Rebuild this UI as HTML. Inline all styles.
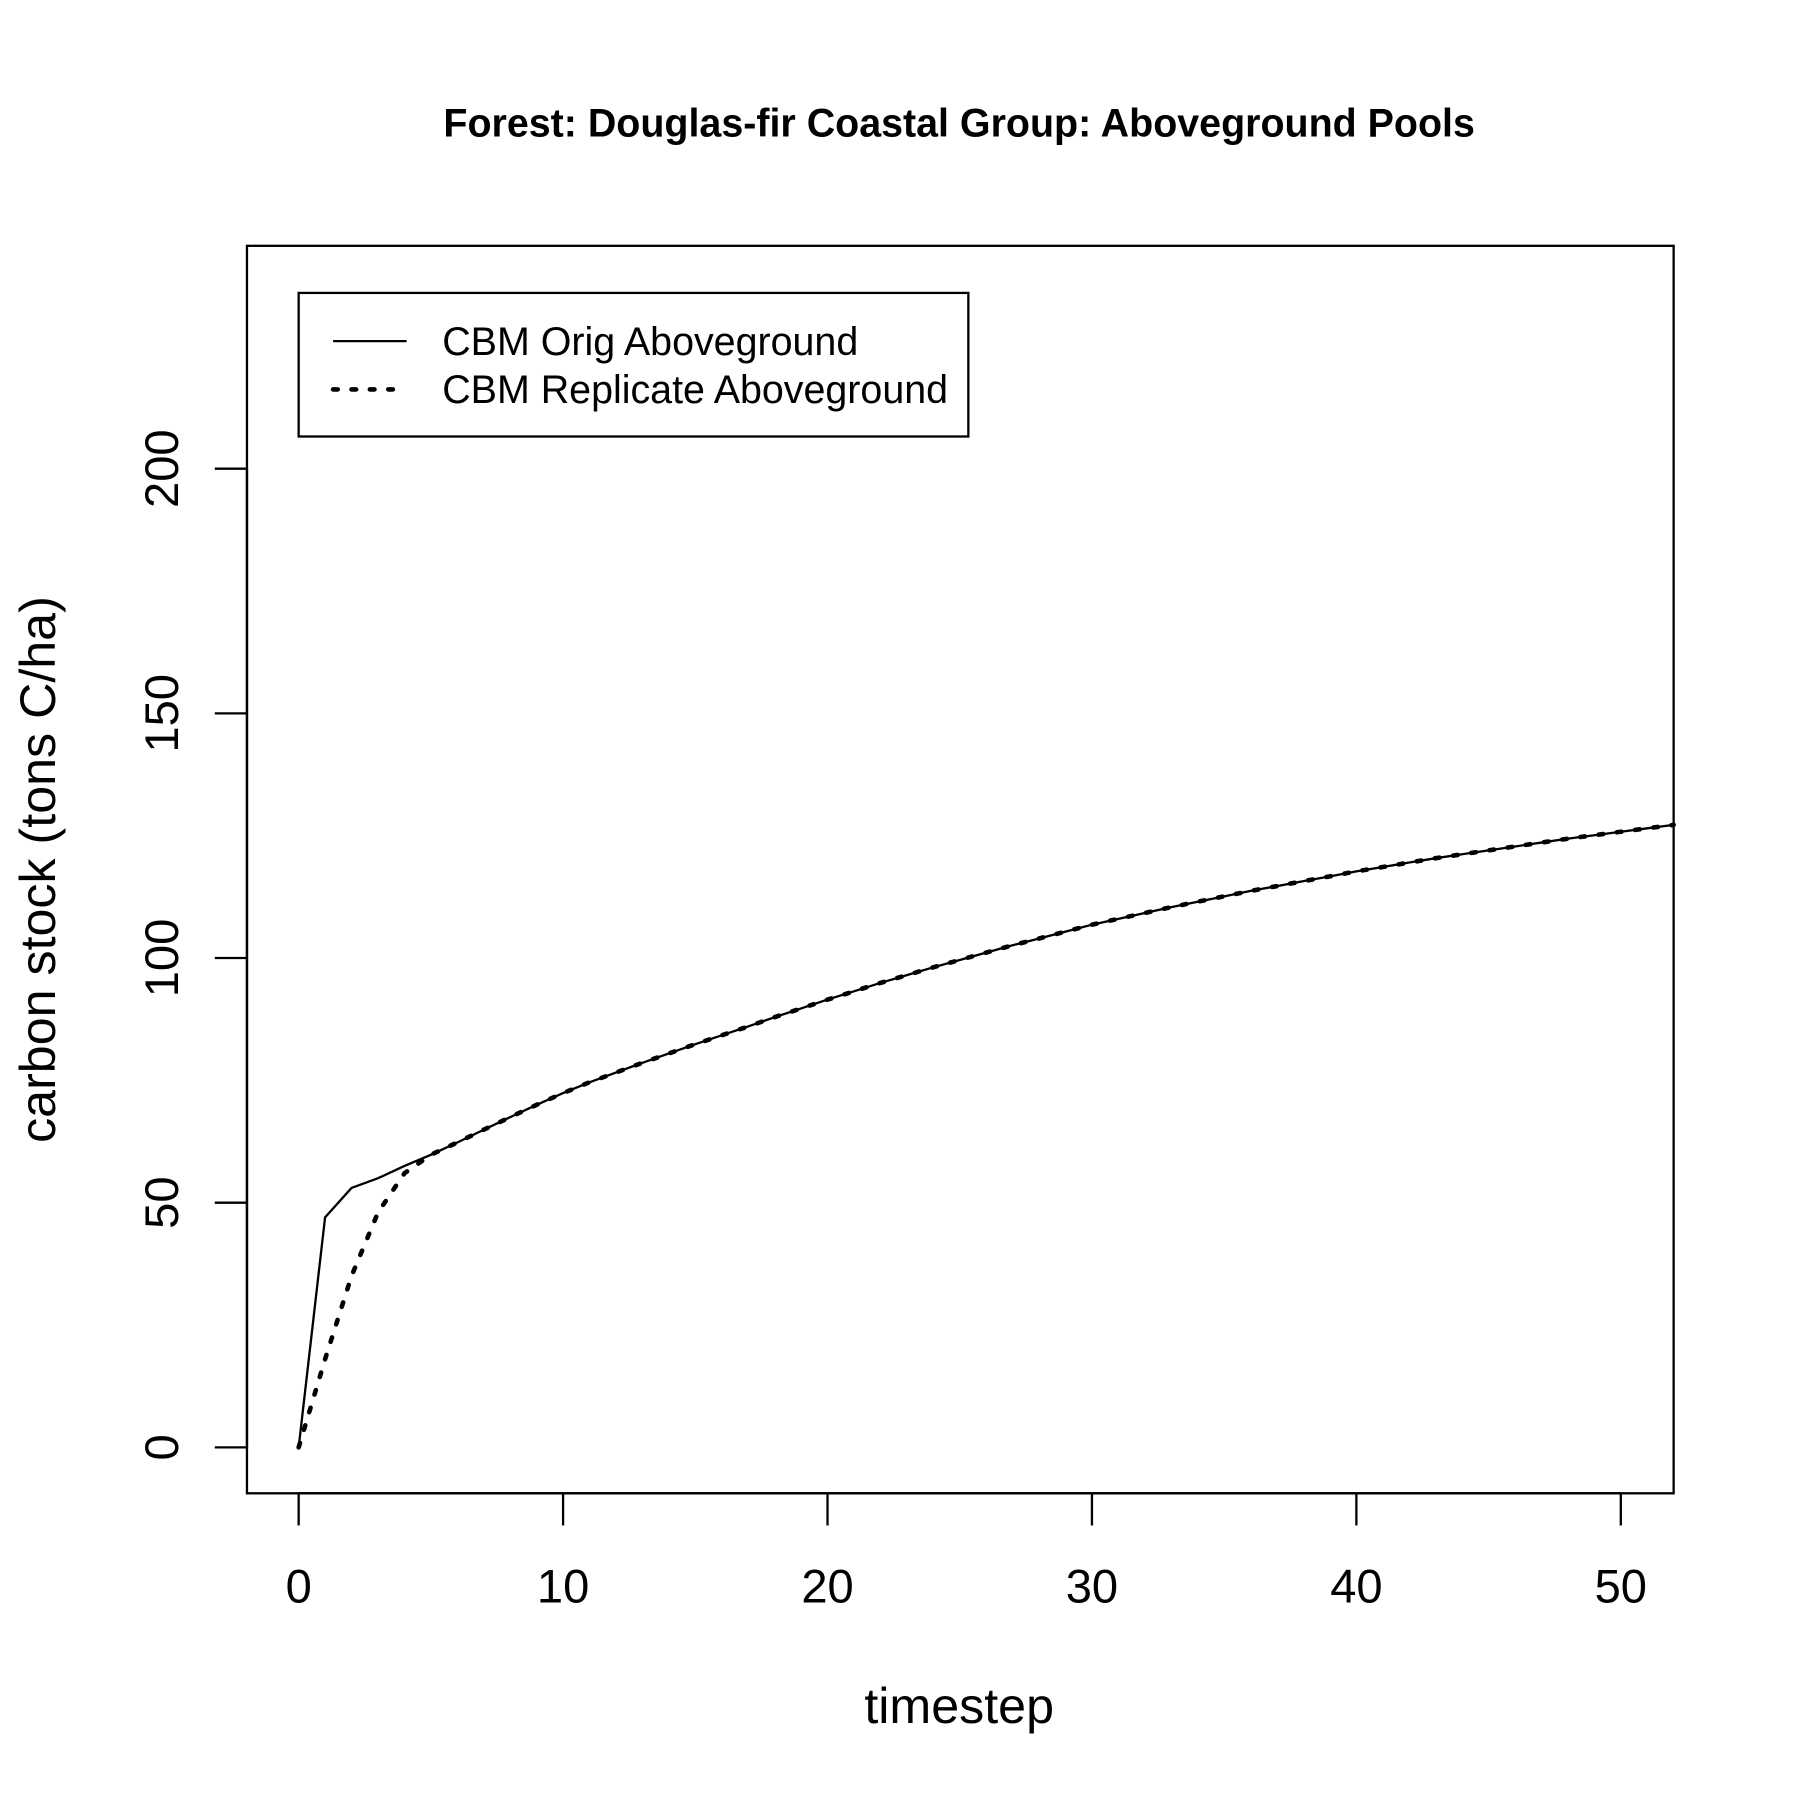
<!DOCTYPE html>
<html><head><meta charset="utf-8"><style>
html,body{margin:0;padding:0;background:#fff;}
svg{display:block;font-family:"Liberation Sans",Arial,sans-serif;}
</style></head><body>
<svg id="chart" width="1800" height="1800" viewBox="0 0 1567 1567" xmlns="http://www.w3.org/2000/svg">
<rect width="1567" height="1567" fill="#fff"/>
<text x="835" y="119" font-size="34.3" font-weight="bold" text-anchor="middle">Forest: Douglas-fir Coastal Group: Aboveground Pools</text>
<rect x="215" y="214" width="1242" height="1086" fill="none" stroke="#000" stroke-width="2"/>
<g id="xaxis"></g>
<g id="yaxis"></g>
<text x="835" y="1500" font-size="43.7" text-anchor="middle">timestep</text>
<text transform="translate(48,757) rotate(-90)" font-size="43.7" text-anchor="middle">carbon stock (tons C/ha)</text>
<g id="series"></g>
<g>
<rect x="260" y="255" width="583" height="125" fill="#fff" stroke="#000" stroke-width="2"/>
<line x1="290" y1="297" x2="354" y2="297" stroke="#000" stroke-width="2"/>
<text x="385" y="309" font-size="34.3">CBM Orig Aboveground</text>
<line x1="290" y1="339" x2="354" y2="339" stroke="#000" stroke-width="4" stroke-dasharray="4,12" stroke-linecap="round"/>
<text x="385" y="351" font-size="34.3">CBM Replicate Aboveground</text>
</g>
</svg>
<script>
const timesteps=[0,1,2,3,4,5,6,7,8,9,10,11,12,13,14,15,16,17,18,19,20,21,22,23,24,25,26,27,28,29,30,31,32,33,34,35,36,37,38,39,40,41,42,43,44,45,46,47,48,49,50,51,52];
const origValues=[0,47,53,55,57.5,59.8,62.3,64.9,67.5,70,72.4,74.6,76.6,78.6,80.5,82.4,84.2,86,87.9,89.7,91.5,93.2,94.9,96.5,98.1,99.6,101.1,102.6,104,105.4,106.8,108,109.2,110.4,111.5,112.6,113.7,114.7,115.7,116.7,117.7,118.6,119.5,120.4,121.2,122,122.8,123.6,124.4,125.1,125.8,126.5,127.2];
const replicateValues=[0,18,35,48,56,59.8,62.3,64.9,67.5,70,72.4,74.6,76.6,78.6,80.5,82.4,84.2,86,87.9,89.7,91.5,93.2,94.9,96.5,98.1,99.6,101.1,102.6,104,105.4,106.8,108,109.2,110.4,111.5,112.6,113.7,114.7,115.7,116.7,117.7,118.6,119.5,120.4,121.2,122,122.8,123.6,124.4,125.1,125.8,126.5,127.2];
const xTicks=[0,10,20,30,40,50];
const yTicks=[0,50,100,150,200];
const NS="http://www.w3.org/2000/svg";
function sx(v){return 260+v*(1411-260)/50;}
function sy(v){return 1260-v*(1260-408)/200;}
function mk(tag,attrs,parent){const e=document.createElementNS(NS,tag);for(const k in attrs)e.setAttribute(k,attrs[k]);parent.appendChild(e);return e;}
const xa=document.getElementById('xaxis'),ya=document.getElementById('yaxis'),sg=document.getElementById('series');
mk('line',{x1:sx(0),y1:1300,x2:sx(50),y2:1300,stroke:'#000','stroke-width':2},xa);
xTicks.forEach(t=>{
 const l=mk('line',{x1:sx(t),y1:1300,x2:sx(t),y2:1328,stroke:'#000','stroke-width':2},xa);
 
 
 const tx=mk('text',{x:sx(t),y:1395,'font-size':41,'text-anchor':'middle'},xa);tx.textContent=t;
 
 
});
mk('line',{x1:215,y1:sy(0),x2:215,y2:sy(200),stroke:'#000','stroke-width':2},ya);
yTicks.forEach(t=>{
 const l=mk('line',{x1:187,y1:sy(t),x2:215,y2:sy(t),stroke:'#000','stroke-width':2},ya);
 
 
 const tx=mk('text',{x:0,y:0,'font-size':41,'text-anchor':'middle',transform:'translate(155,'+sy(t)+') rotate(-90)'},ya);tx.textContent=t;
 
 
});
function pts(vals){return timesteps.map((t,i)=>sx(t).toFixed(1)+','+sy(vals[i]).toFixed(1)).join(' ');}
const o=mk('polyline',{points:pts(origValues),fill:'none',stroke:'#000','stroke-width':2},sg);


const r=mk('polyline',{points:pts(replicateValues),fill:'none',stroke:'#000','stroke-width':4,'stroke-dasharray':'4,12','stroke-linecap':'round'},sg);


</script>
</body></html>
